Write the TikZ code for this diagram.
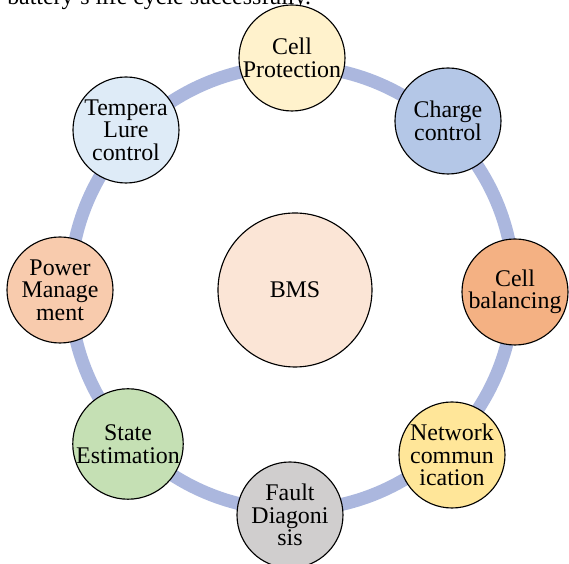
\documentclass[tikz,border=0pt]{standalone}
\usepackage{fontspec}
\setmainfont{Liberation Serif}
\usepackage{tikz}
\definecolor{ringblue}{RGB}{171,183,222}
\definecolor{protyel}{RGB}{255,242,204}
\definecolor{chgblue}{RGB}{180,199,231}
\definecolor{balorg}{RGB}{244,177,131}
\definecolor{netyel}{RGB}{255,230,153}
\definecolor{faultgray}{RGB}{208,206,206}
\definecolor{stategreen}{RGB}{197,224,180}
\definecolor{powpeach}{RGB}{248,203,173}
\definecolor{templblue}{RGB}{222,235,247}
\definecolor{bmspink}{RGB}{251,229,214}

\begin{document}
\begin{tikzpicture}[
    part/.style={circle,draw,line width=0.8pt,minimum size=2.65cm,inner sep=0pt,align=center,font=\fontsize{17}{16}\selectfont}
    ]
    \useasboundingbox (-7.3,-6.9) rectangle (6.925,7.2);
    \node[anchor=base west,inner sep=0pt,font=\fontsize{17}{17}\selectfont] (cap) at (-7.125,7.075) {battery’s life cycle successfully.}; %本文の切れ端
    \draw[ringblue,line width=0.325cm] (0,0) circle (5.55cm); %輪
    \node[part,fill=bmspink,minimum size=3.85cm] (bms) at (0.075,-0.05) {BMS}; %中心
    \foreach \x/\y/\n/\c/\t in {0/5.75/prot/protyel/{Cell\\Protection},
        3.9/4.175/chg/chgblue/{Charge\\control},
        5.575/-0.1/bal/balorg/{Cell\\balancing},
        4.0/-4.175/net/netyel/{Network\\commun\\ication},
        -0.05/-5.675/fault/faultgray/{Fault\\Diagoni\\sis},
        -4.1/-3.9/state/stategreen/{State\\Estimation},
        -5.8/-0.05/pow/powpeach/{Power\\Manage\\ment},
        -4.15/3.95/temp/templblue/{Tempera\\Lure\\control}}
    \node[part,fill=\c] (\n) at (\x,\y) {\t};
\end{tikzpicture}
\end{document}
